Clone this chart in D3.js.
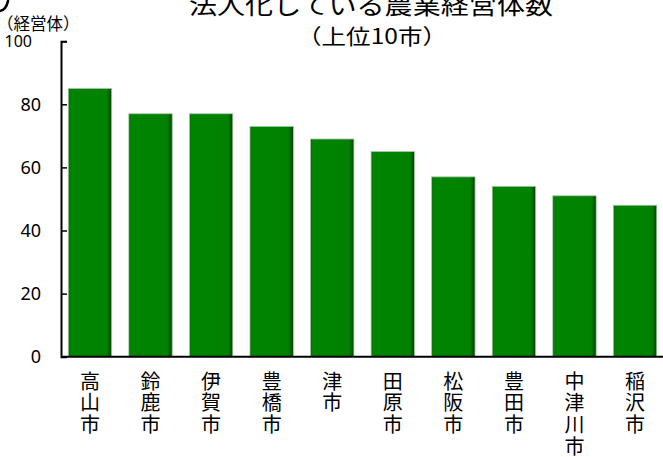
<!DOCTYPE html>
<html>
<head>
<meta charset="utf-8">
<script src="https://cdn.jsdelivr.net/npm/d3@7"></script>
<style>
  html, body { margin: 0; padding: 0; background: #fff; }
  svg { display: block; }
</style>
</head>
<body>
<svg id="chart" width="663" height="457"></svg>
<script>
const categories = ["高山市", "鈴鹿市", "伊賀市", "豊橋市", "津市", "田原市", "松阪市", "豊田市", "中津川市", "稲沢市"];
const values = [85, 77, 77, 73, 69, 65, 57, 54, 51, 48];
const yTicks = [0, 20, 40, 60, 80, 100];
const titleLines = ["法人化している農業経営体数", "（上位10市）"];
const unitLabel = "（経営体）";

const svg = d3.select("#chart");
const cjk = "'Noto Sans CJK JP', 'Noto Sans CJK SC', sans-serif";
const num = "'Noto Sans', 'Open Sans', sans-serif";

const x = d3.scaleBand().domain(categories).range([61, 664]).paddingInner(0.284).paddingOuter(0.12);
const y = d3.scaleLinear().domain([0, 100]).range([356.7, 41.2]);

// gradient for bars
const defs = svg.append("defs");
const grad = defs.append("linearGradient").attr("id", "barGrad").attr("x1", "0").attr("x2", "1").attr("y1", "0").attr("y2", "0");
[[0, "#006a00"], [0.05, "#008400"], [0.88, "#008200"], [0.95, "#006000"], [1, "#003c00"]].forEach(([o, c]) =>
  grad.append("stop").attr("offset", o).attr("stop-color", c));

// bars
svg.append("g").selectAll("rect").data(values).join("rect")
  .attr("x", (d, i) => x(categories[i]))
  .attr("y", d => y(d))
  .attr("width", x.bandwidth())
  .attr("height", d => y(0) - y(d))
  .attr("fill", "url(#barGrad)")
  .attr("stroke", "#a8c4a8")
  .attr("stroke-width", 0.8);

// y axis
const yAxis = d3.axisLeft(y).tickValues(yTicks).tickSizeInner(-6).tickSizeOuter(-6).tickPadding(20).tickFormat(d3.format("d"));
const gy = svg.append("g").attr("transform", "translate(61,0)").call(yAxis);
gy.select(".domain").attr("stroke", "#000").attr("stroke-width", 2);
gy.selectAll(".tick line").attr("stroke", "#000").attr("stroke-width", 1.5);
gy.selectAll(".tick text").attr("font-family", num).attr("font-size", 18).attr("fill", "#000");
gy.selectAll(".tick").filter(d => d === 100).select("text").attr("font-size", 16).attr("x", -29).attr("dy", "0.32em");

// x axis baseline
const xAxis = d3.axisBottom(x).tickSize(0).tickFormat("");
const gx = svg.append("g").attr("transform", `translate(0,${y(0)})`).call(xAxis);
gx.select(".domain").attr("d", `M61,0H663`).attr("stroke", "#000").attr("stroke-width", 2);

// vertical category labels
const lab = svg.append("g");
categories.forEach(c => {
  const t = lab.append("text")
    .attr("font-family", cjk).attr("font-size", 20).attr("fill", "#000")
    .attr("text-anchor", "middle");
  Array.from(c).forEach((ch, j) => {
    t.append("tspan").attr("x", x(c) + x.bandwidth() / 2).attr("y", 388.5 + j * 21.8).text(ch);
  });
});

// title
svg.append("text").attr("transform", "translate(371,14) scale(1.17,1)")
  .attr("text-anchor", "middle").attr("font-family", cjk).attr("font-size", 24).attr("fill", "#000")
  .text(titleLines[0]);
svg.append("text").attr("transform", "translate(372,44) scale(1.17,1)")
  .attr("text-anchor", "middle").attr("font-family", cjk).attr("font-size", 21).attr("fill", "#000")
  .text(titleLines[1]);

// unit label
svg.append("text").attr("x", -3).attr("y", 30)
  .attr("font-family", cjk).attr("font-size", 16.5).attr("fill", "#000")
  .text(unitLabel);

// small decorative mark at top-left corner
svg.append("path").attr("d", "M0,11 Q6,10 8,1").attr("fill", "none").attr("stroke", "#000").attr("stroke-width", 2.6).attr("stroke-linecap", "round");
</script>
</body>
</html>
